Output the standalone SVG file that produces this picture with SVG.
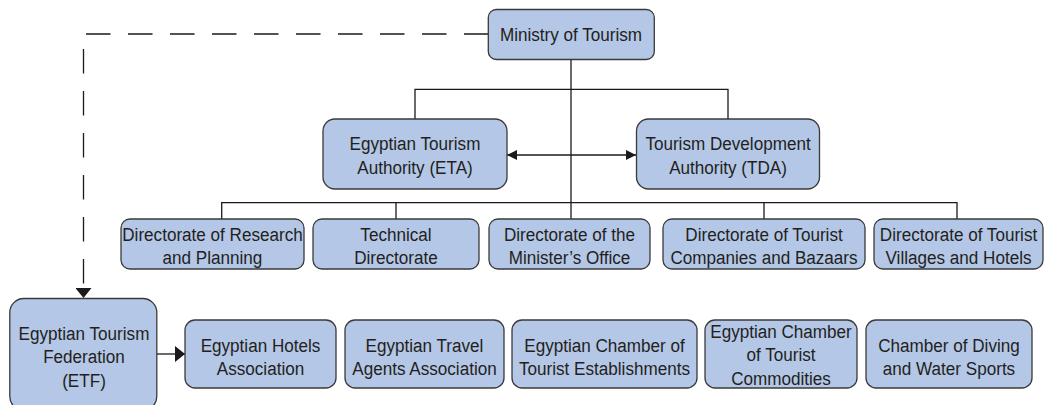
<svg xmlns="http://www.w3.org/2000/svg" width="1046" height="405" viewBox="0 0 1046 405">
<defs>
<style>
.box{fill:#b4c7e7;stroke:#3a3a3a;stroke-width:1.3}
.t{font-family:"Liberation Sans",Arial,sans-serif;font-size:19px;fill:#231f20;text-anchor:middle}
.ln{fill:none;stroke:#1a1a1a;stroke-width:1.3}
.dash{fill:none;stroke:#1a1a1a;stroke-width:1.3;stroke-dasharray:24.5 17.5}
</style>
<marker id="big" viewBox="0 0 10 16" refX="10" refY="8" markerWidth="10" markerHeight="16" markerUnits="userSpaceOnUse" orient="auto">
<path d="M0,0 L10,8 L0,16 z" fill="#1a1a1a"/>
</marker>
<marker id="small" viewBox="0 0 10 10" refX="10" refY="5" markerWidth="10" markerHeight="10" markerUnits="userSpaceOnUse" orient="auto-start-reverse">
<path d="M0,0 L10,5 L0,10 z" fill="#1a1a1a"/>
</marker>
</defs>
<rect width="1046" height="405" fill="#ffffff"/>
<g id="connectors">
<path class="ln" d="M571,59.5 V219"/>
<path class="ln" d="M415,119 V89.3 H728 V119"/>
<path class="ln" d="M221.7,219 V202.7 H957 V219"/>
<path class="ln" d="M396,202.7 V219"/>
<path class="ln" d="M764,202.7 V219"/>
<path class="ln" d="M507,155 H636" marker-start="url(#small)" marker-end="url(#small)"/>
<path class="dash" d="M86,34 H488"/>
<path class="dash" d="M83.5,49 V298" marker-end="url(#big)"/>
<path class="ln" d="M157,354 H185" marker-end="url(#big)"/>
</g>
<g id="ministry">
<rect class="box" x="488.3" y="9.5" width="166" height="50" rx="8"/>
<text class="t" transform="translate(571 40.7) scale(0.9 1)">Ministry of Tourism</text>
</g>
<g id="eta">
<rect class="box" x="323" y="119" width="184" height="70" rx="12"/>
<text class="t" transform="translate(415 150) scale(0.9 1)">Egyptian Tourism</text>
<text class="t" transform="translate(415 173.5) scale(0.9 1)">Authority (ETA)</text>
</g>
<g id="tda">
<rect class="box" x="636.5" y="119" width="183" height="70" rx="12"/>
<text class="t" transform="translate(728 150) scale(0.9 1)">Tourism Development</text>
<text class="t" transform="translate(728 173.5) scale(0.9 1)">Authority (TDA)</text>
</g>
<g id="dir-research">
<rect class="box" x="121" y="219" width="183" height="50" rx="9"/>
<text class="t" transform="translate(212.5 240.7) scale(0.9 1)">Directorate of Research</text>
<text class="t" transform="translate(212.5 263.9) scale(0.9 1)">and Planning</text>
</g>
<g id="dir-technical">
<rect class="box" x="313" y="219" width="166" height="50" rx="9"/>
<text class="t" transform="translate(396 240.7) scale(0.9 1)">Technical</text>
<text class="t" transform="translate(396 263.9) scale(0.9 1)">Directorate</text>
</g>
<g id="dir-minister">
<rect class="box" x="489" y="219" width="161" height="50" rx="9"/>
<text class="t" transform="translate(569.5 240.7) scale(0.9 1)">Directorate of the</text>
<text class="t" transform="translate(569.5 263.9) scale(0.9 1)">Minister’s Office</text>
</g>
<g id="dir-companies">
<rect class="box" x="663" y="219" width="202" height="50" rx="9"/>
<text class="t" transform="translate(764 240.7) scale(0.9 1)">Directorate of Tourist</text>
<text class="t" transform="translate(764 263.9) scale(0.9 1)">Companies and Bazaars</text>
</g>
<g id="dir-villages">
<rect class="box" x="874" y="219" width="169" height="50" rx="9"/>
<text class="t" transform="translate(958.5 240.7) scale(0.9 1)">Directorate of Tourist</text>
<text class="t" transform="translate(958.5 263.9) scale(0.9 1)">Villages and Hotels</text>
</g>
<g id="etf">
<rect class="box" x="9.8" y="298.5" width="147" height="112" rx="14"/>
<text class="t" transform="translate(84 340) scale(0.9 1)">Egyptian Tourism</text>
<text class="t" transform="translate(84 363.2) scale(0.9 1)">Federation</text>
<text class="t" transform="translate(84 386.6) scale(0.9 1)">(ETF)</text>
</g>
<g id="hotels">
<rect class="box" x="185" y="320" width="151" height="68" rx="10"/>
<text class="t" transform="translate(260.5 351.6) scale(0.9 1)">Egyptian Hotels</text>
<text class="t" transform="translate(260.5 374.6) scale(0.9 1)">Association</text>
</g>
<g id="travel">
<rect class="box" x="345" y="320" width="159" height="68" rx="10"/>
<text class="t" transform="translate(424.5 351.6) scale(0.9 1)">Egyptian Travel</text>
<text class="t" transform="translate(424.5 374.6) scale(0.9 1)">Agents Association</text>
</g>
<g id="establishments">
<rect class="box" x="512" y="320" width="185" height="68" rx="10"/>
<text class="t" transform="translate(604.5 351.6) scale(0.9 1)">Egyptian Chamber of</text>
<text class="t" transform="translate(604.5 374.6) scale(0.9 1)">Tourist Establishments</text>
</g>
<g id="commodities">
<rect class="box" x="705" y="320" width="152" height="68" rx="10"/>
<text class="t" transform="translate(781 337.5) scale(0.9 1)">Egyptian Chamber</text>
<text class="t" transform="translate(781 361) scale(0.9 1)">of Tourist</text>
<text class="t" transform="translate(781 384.5) scale(0.9 1)">Commodities</text>
</g>
<g id="diving">
<rect class="box" x="866" y="320" width="166" height="68" rx="10"/>
<text class="t" transform="translate(949 351.6) scale(0.9 1)">Chamber of Diving</text>
<text class="t" transform="translate(949 374.6) scale(0.9 1)">and Water Sports</text>
</g>
</svg>
